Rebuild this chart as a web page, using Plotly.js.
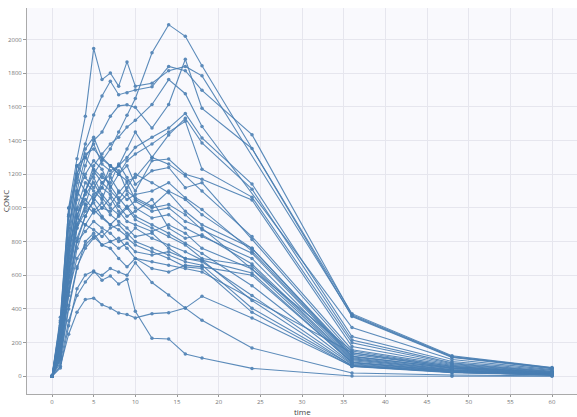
<!DOCTYPE html>
<html>
<head>
<meta charset="utf-8">
<script src="https://cdn.plot.ly/plotly-3.0.1.min.js"></script>
<style>
  html, body { margin: 0; padding: 0; background: #ffffff; }
  #chart { width: 577px; height: 417px; }
</style>
</head>
<body>
<div id="chart"></div>
<script>
// Nominal sampling times (h)
const times = [0, 1, 2, 3, 4, 5, 6, 7, 8, 9, 10, 12, 14, 16, 18, 24, 36, 48, 60];

// Subject identifiers
const subjectIds = [
  "H1", "H2", "H3", "H4", "H5", "H6", "H7", "H8",
  "M1", "M2", "M3", "M4", "M5", "M6", "M7", "M8", "M9", "M10",
  "M11", "M12", "M13", "M14", "M15", "M16", "M17",
  "N1", "N2", "N3",
  "L1", "L2", "L3"
];

// Concentration per subject at each time (null = not sampled)
const conc = [
  [0, 120, 600, 950, 1100, 1200, 1280, 1350, 1450, 1550, 1650, 1921, 2088, 2019, 1844, null, 372, 122, 52],
  [0, 330, 1000, 1292, 1544, 1947, 1762, 1801, 1723, 1867, 1723, 1740, 1815, 1840, 1784, null, 360, 115, 48],
  [0, 280, 880, 1200, 1380, 1552, 1664, 1752, 1672, 1684, 1700, 1719, 1840, 1815, 1698, 1435, 365, 118, 50],
  [0, 200, 700, 1050, 1250, 1400, 1450, 1544, 1606, 1612, 1597, 1474, 1614, 1883, 1591, 1353, 355, 112, 45],
  [0, 150, 620, 900, 1100, 1250, 1320, 1380, 1420, 1480, 1520, 1614, 1762, 1678, 1483, null, 290, 100, 40],
  [0, 100, 500, 800, 950, 1050, 1150, 1200, 1250, 1300, 1360, 1420, 1474, 1561, 1415, 1142, 236, 88, 35],
  [0, 180, 750, 1100, 1300, 1380, 1260, 1220, 1250, 1350, 1450, 1300, 1433, 1532, 1386, 1111, 216, 80, 30],
  [0, 250, 800, 1150, 1350, 1420, 1300, 1250, 1200, 1280, 1320, 1380, 1450, 1514, 1230, 1064, 199, 75, 28],
  [0, 220, 820, 1250, 1300, 1230, 1180, 1150, 1260, 1180, 1100, 1280, 1290, 1200, 1170, 1047, 177, 70, 25],
  [0, 300, 950, 1200, 1320, 1350, 1290, 1250, 1200, 1160, 1180, 1300, 1260, 1190, 1100, 830, 158, 65, 22],
  [0, 260, 780, 1080, 1200, 1280, 1230, 1120, 1200, 1250, 1140, 1220, 1240, 1120, 1150, 813, 140, 60, 20],
  [0, 190, 650, 950, 1100, 1220, 1150, 1100, 1050, 1120, 1200, 1150, 1090, 980, 900, 760, 130, 55, 20],
  [0, 240, 720, 1000, 1150, 1100, 1050, 1180, 1100, 1050, 1080, 1100, 1150, 1060, 990, 743, 117, 50, 18],
  [0, 170, 560, 880, 1020, 1180, 1080, 1020, 1090, 1150, 1050, 1000, 1020, 960, 870, 731, 110, 45, 15],
  [0, 350, 1000, 1180, 1100, 1060, 1000, 980, 1030, 1080, 1000, 940, 960, 880, 830, 700, 105, 40, 15],
  [0, 140, 520, 820, 950, 1050, 1120, 1080, 1010, 950, 980, 1050, 880, 820, 840, 667, 99, 38, 14],
  [0, 210, 680, 960, 1050, 990, 940, 900, 950, 1000, 930, 880, 830, 780, 700, 655, 92, 35, 12],
  [0, 290, 900, 1100, 1020, 970, 1000, 1060, 980, 920, 900, 860, 900, 850, 760, 637, 85, 33, 12],
  [0, 160, 600, 880, 980, 1030, 950, 900, 870, 830, 880, 820, 780, 740, 690, 614, 80, 30, 10],
  [0, 230, 740, 990, 1080, 1150, 1060, 1000, 960, 1010, 950, 900, 850, 790, 730, 538, 75, 28, 10],
  [0, 120, 480, 760, 900, 980, 1030, 960, 920, 880, 830, 850, 760, 700, 680, 480, 70, 26, 9],
  [0, 260, 760, 940, 900, 870, 830, 880, 900, 850, 800, 760, 720, 680, 660, 404, 65, 25, 8],
  [0, 180, 560, 800, 860, 920, 880, 850, 800, 820, 780, 740, 700, 650, 640, 380, 58, 22, 8],
  [0, 320, 960, 1250, 1180, 1120, 1200, 1130, 1060, 1000, 1040, 980, 1000, 920, 880, null, 150, 58, 20],
  [0, 200, 640, 900, 1000, 1080, 1120, 1250, 1220, 1100, 1060, 1010, 1100, 1050, 960, 760, 120, 48, 17],
  [0, 100, 400, 640, 800, 850, 780, 760, 700, 650, 700, 680, 660, 640, 620, null, 140, 50, 20],
  [0, 140, 500, 700, 780, 830, 780, 800, 820, 760, 700, 640, 620, 660, 650, 600, 82, 32, 12],
  [0, 110, 420, 650, 760, 820, 860, 800, 760, 790, 740, 720, 740, 700, 690, 450, 62, 24, 9],
  [0, 60, 250, 380, 456, 464, 425, 405, 376, 367, 347, 372, 378, 405, 475, 347, 60, 25, 8],
  [0, 50, 300, 520, 602, 626, 571, 596, 548, 577, 386, 226, 222, 133, 109, 47, 2, 1, 0],
  [0, 80, 330, 480, 560, 620, 600, 640, 620, 600, 674, 557, 483, 405, 333, 168, 20, 8, 3]
];

const yTickVals = [0, 200, 400, 600, 800, 1000, 1200, 1400, 1600, 1800, 2000];
const xTickVals = [0, 5, 10, 15, 20, 25, 30, 35, 40, 45, 50, 55, 60];

const lineColor = "#4a7fb3";

const traces = conc.map((vals, i) => ({
  type: "scatter",
  mode: "lines+markers",
  name: subjectIds[i],
  x: times,
  y: vals,
  connectgaps: true,
  line: { color: lineColor, width: 1.1 },
  marker: { color: lineColor, size: 3.5 },
  opacity: 0.9,
  showlegend: false
}));

const axisFont = { family: "Open Sans, sans-serif", size: 6, color: "#777" };
const titleFont = { family: "Open Sans, sans-serif", size: 8, color: "#444" };

const layout = {
  width: 577,
  height: 417,
  margin: { l: 27, r: 0, t: 8, b: 23 },
  paper_bgcolor: "#ffffff",
  plot_bgcolor: "#f9f9fd",
  showlegend: false,
  xaxis: {
    range: [-3, 63],
    tickvals: xTickVals,
    ticks: "outside",
    ticklen: 2,
    tickcolor: "#999",
    tickfont: axisFont,
    showline: true,
    linecolor: "#aaa",
    linewidth: 1,
    gridcolor: "#e6e6ee",
    zeroline: false,
    automargin: false
  },
  yaxis: {
    title: { text: "CONC", font: titleFont, standoff: 0 },
    range: [-105, 2187],
    tickvals: yTickVals,
    ticks: "outside",
    ticklen: 3,
    tickcolor: "#999",
    tickfont: axisFont,
    showline: true,
    linecolor: "#aaa",
    linewidth: 1,
    gridcolor: "#e6e6ee",
    zeroline: false,
    automargin: false
  },
  // x-axis title placed just under the tick labels (the bottom margin is tight)
  annotations: [{
    text: "time",
    xref: "paper", yref: "paper",
    x: 0.5, y: 0,
    xanchor: "center", yanchor: "top",
    yshift: -9.5,
    showarrow: false,
    font: titleFont
  }]
};

Plotly.newPlot("chart", traces, layout, { displayModeBar: false, staticPlot: true });
</script>
</body>
</html>
